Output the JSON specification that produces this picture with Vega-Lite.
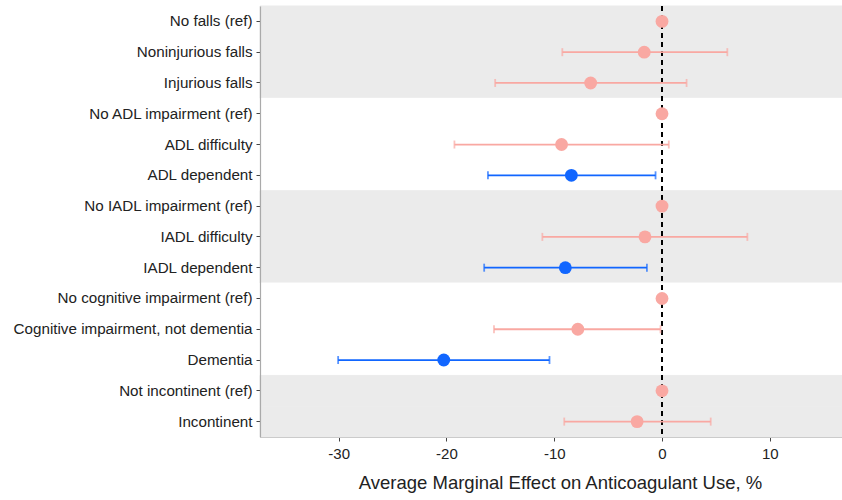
{
  "$schema": "https://vega.github.io/schema/vega-lite/v6.json",
  "width": 582,
  "height": 431,
  "autosize": "none",
  "padding": {"left": 260, "top": 6, "right": 0, "bottom": 63},
  "background": "white",
  "config": {
    "view": {"stroke": null},
    "font": "Liberation Sans",
    "axis": {"grid": false}
  },
  "data": {
    "values": [
      {"label": "No falls (ref)", "group": "Falls", "est": 0, "lo": null, "hi": null, "sig": "No"},
      {"label": "Noninjurious falls", "group": "Falls", "est": -1.65, "lo": -9.25, "hi": 6.06, "sig": "No"},
      {"label": "Injurious falls", "group": "Falls", "est": -6.62, "lo": -15.48, "hi": 2.28, "sig": "No"},
      {"label": "No ADL impairment (ref)", "group": "ADL", "est": 0, "lo": null, "hi": null, "sig": "No"},
      {"label": "ADL difficulty", "group": "ADL", "est": -9.32, "lo": -19.26, "hi": 0.63, "sig": "No"},
      {"label": "ADL dependent", "group": "ADL", "est": -8.41, "lo": -16.15, "hi": -0.6, "sig": "Yes"},
      {"label": "No IADL impairment (ref)", "group": "IADL", "est": 0, "lo": null, "hi": null, "sig": "No"},
      {"label": "IADL difficulty", "group": "IADL", "est": -1.58, "lo": -11.1, "hi": 7.92, "sig": "No"},
      {"label": "IADL dependent", "group": "IADL", "est": -8.97, "lo": -16.5, "hi": -1.4, "sig": "Yes"},
      {"label": "No cognitive impairment (ref)", "group": "Cognition", "est": 0, "lo": null, "hi": null, "sig": "No"},
      {"label": "Cognitive impairment, not dementia", "group": "Cognition", "est": -7.81, "lo": -15.59, "hi": -0.14, "sig": "No"},
      {"label": "Dementia", "group": "Cognition", "est": -20.25, "lo": -30.05, "hi": -10.44, "sig": "Yes"},
      {"label": "Not incontinent (ref)", "group": "Continence", "est": 0, "lo": null, "hi": null, "sig": "No"},
      {"label": "Incontinent", "group": "Continence", "est": -2.31, "lo": -9.07, "hi": 4.52, "sig": "No"}
    ]
  },
  "encoding": {
    "y": {
      "field": "label",
      "type": "nominal",
      "sort": null,
      "scale": {"paddingInner": 0, "paddingOuter": 0},
      "axis": {
        "title": null,
        "labelFontSize": 15.2,
        "labelLimit": 400,
        "labelColor": "#222222",
        "labelPadding": 4,
        "tickColor": "#444444",
        "tickSize": 4,
        "domainColor": "#AAAAAA",
        "domainWidth": 1.2
      }
    }
  },
  "layer": [
    {
      "mark": {"type": "rect", "strokeWidth": 1},
      "encoding": {
        "fill": {
          "field": "group",
          "type": "nominal",
          "scale": {
            "domain": ["Falls", "ADL", "IADL", "Cognition", "Continence"],
            "range": ["#EBEBEB", "#FFFFFF", "#EBEBEB", "#FFFFFF", "#EBEBEB"]
          },
          "legend": null
        },
        "stroke": {
          "field": "group",
          "type": "nominal",
          "scale": {
            "domain": ["Falls", "ADL", "IADL", "Cognition", "Continence"],
            "range": ["#EBEBEB", "#FFFFFF", "#EBEBEB", "#FFFFFF", "#EBEBEB"]
          },
          "legend": null
        }
      }
    },
    {
      "mark": {"type": "rule", "color": "black", "strokeDash": [5, 4], "strokeWidth": 1.6},
      "encoding": {
        "x": {"datum": 0, "type": "quantitative"},
        "y": {"value": 0},
        "y2": {"value": 431}
      }
    },
    {
      "mark": {"type": "rule", "strokeWidth": 1.8},
      "encoding": {
        "x": {
          "field": "lo",
          "type": "quantitative",
          "scale": {"domain": [-37.3, 16.7], "nice": false, "zero": false},
          "axis": {
            "values": [-30, -20, -10, 0, 10],
            "labelExpr": "'' + datum.value",
            "title": "Average Marginal Effect on Anticoagulant Use, %",
            "titleFontSize": 18.5,
            "titleFontWeight": "normal",
            "titleColor": "#222222",
            "titlePadding": 12,
            "titleX": 300,
            "labelFontSize": 15,
            "labelColor": "#222222",
            "labelPadding": 5,
            "tickColor": "#444444",
            "tickSize": 4,
            "domainColor": "#AAAAAA",
            "domainWidth": 1.2
          }
        },
        "x2": {"field": "hi"},
        "color": {
          "field": "sig",
          "type": "nominal",
          "scale": {"domain": ["No", "Yes"], "range": ["#F9A8A2", "#1166FF"]},
          "legend": null
        }
      }
    },
    {
      "mark": {"type": "tick", "orient": "vertical", "size": 8, "thickness": 1.8},
      "encoding": {
        "x": {"field": "lo", "type": "quantitative"},
        "color": {"field": "sig", "type": "nominal", "legend": null}
      }
    },
    {
      "mark": {"type": "tick", "orient": "vertical", "size": 8, "thickness": 1.8},
      "encoding": {
        "x": {"field": "hi", "type": "quantitative"},
        "color": {"field": "sig", "type": "nominal", "legend": null}
      }
    },
    {
      "mark": {"type": "circle", "size": 165, "opacity": 1},
      "encoding": {
        "x": {"field": "est", "type": "quantitative"},
        "color": {"field": "sig", "type": "nominal", "legend": null}
      }
    }
  ]
}
